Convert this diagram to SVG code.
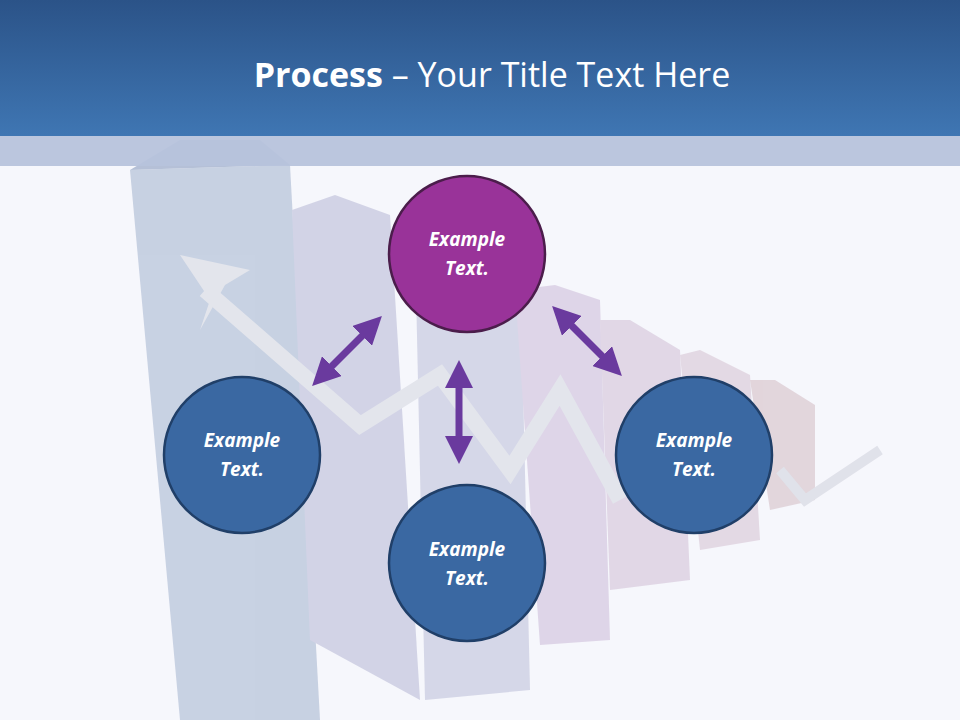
<svg xmlns="http://www.w3.org/2000/svg" width="960" height="720" viewBox="0 0 960 720">
<defs>
<linearGradient id="hdr" x1="0" y1="0" x2="0" y2="1"><stop offset="0" stop-color="#2b5388"/><stop offset="1" stop-color="#3f76b3"/></linearGradient>
<marker id="ah" viewBox="0 0 10 10" refX="5" refY="5" markerWidth="4" markerHeight="4" orient="auto-start-reverse"><path d="M0,0 L10,5 L0,10 z" fill="#6a3a9e"/></marker>
<style>
.bar{stroke:none}
.c{stroke-width:2.5}
.blue{fill:#3a68a2;stroke:#203f68}
.purp{fill:#993399;stroke:#4b1d4b}
.t{font-family:"Open Sans","Liberation Sans",sans-serif;font-weight:bold;font-style:italic;font-size:19px;fill:#fff;text-anchor:middle}
.dbl{stroke:#6a3a9e;stroke-width:7;fill:none;marker-start:url(#ah);marker-end:url(#ah)}
</style>
</defs>
<rect width="960" height="720" fill="#f6f7fc"/>
<g id="bars" opacity="0.9">
<polygon class="bar" points="130,170 290,165 320,720 180,720" fill="#c3cde0"/>
<polygon class="bar" points="130,170 180,140 260,140 290,165" fill="#aebbd3"/>
<polygon class="bar" points="292,210 335,195 390,215 420,700 310,640" fill="#cfd0e4"/>
<polygon class="bar" points="415,245 470,235 520,255 530,690 425,700" fill="#d2d4e6"/>
<polygon class="bar" points="515,290 555,285 600,300 610,640 540,645" fill="#dcd2e6"/>
<polygon class="bar" points="600,320 630,320 680,350 690,580 610,590" fill="#dfd4e4"/>
<polygon class="bar" points="680,355 700,350 750,375 760,540 700,550" fill="#e2d6e2"/>
<polygon class="bar" points="750,380 775,380 815,405 815,500 770,510" fill="#e0d2d8"/>
</g>
<polyline points="205,290 360,425 440,375 510,470 560,390 620,500" fill="none" stroke="#e3e5ec" stroke-width="16" stroke-linejoin="miter"/>
<polygon points="180,255 250,270 225,285 200,330 210,300" fill="#e3e5ec"/>
<polyline points="780,470 805,500 880,450" fill="none" stroke="#e0e2ea" stroke-width="10"/>
<rect x="0" y="0" width="960" height="136" fill="url(#hdr)"/>
<rect x="0" y="136" width="960" height="30" fill="#b7c3dc" opacity="0.95"/>
<text x="492" y="87" font-family="Open Sans,Liberation Sans,sans-serif" font-size="34" fill="#fff" text-anchor="middle"><tspan font-weight="bold">Process</tspan> – Your Title Text Here</text>
<g id="connectors">
<line class="dbl" x1="322" y1="376" x2="372" y2="326"/>
<line class="dbl" x1="459" y1="374" x2="459" y2="450"/>
<line class="dbl" x1="562" y1="316" x2="612" y2="366"/>
</g>
<g id="n1"><circle class="c purp" cx="467" cy="254" r="78"/><text class="t" x="467" y="246">Example</text><text class="t" x="467" y="275">Text.</text></g>
<g id="n2"><circle class="c blue" cx="242" cy="455" r="78"/><text class="t" x="242" y="447">Example</text><text class="t" x="242" y="476">Text.</text></g>
<g id="n3"><circle class="c blue" cx="467" cy="563" r="78"/><text class="t" x="467" y="556">Example</text><text class="t" x="467" y="585">Text.</text></g>
<g id="n4"><circle class="c blue" cx="694" cy="455" r="78"/><text class="t" x="694" y="447">Example</text><text class="t" x="694" y="476">Text.</text></g>
</svg>
